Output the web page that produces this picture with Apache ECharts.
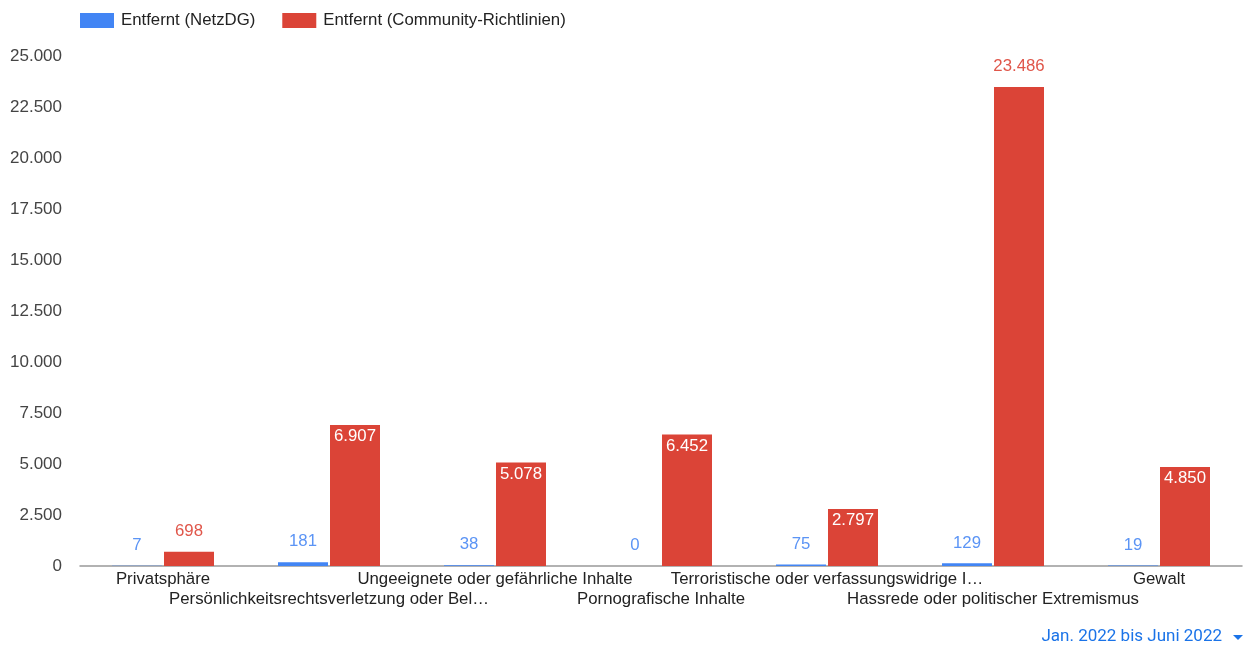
<!DOCTYPE html>
<html>
<head>
<meta charset="utf-8">
<script src="https://cdn.jsdelivr.net/npm/echarts@6/dist/echarts.min.js"></script>
<style>html,body{margin:0;padding:0;background:#fff}#c{width:1245px;height:646px}</style>
</head>
<body>
<div id="c"></div>
<script>
const categories = [
  "Privatsphäre",
  "Persönlichkeitsrechtsverletzung oder Beleidigung",
  "Ungeeignete oder gefährliche Inhalte",
  "Pornografische Inhalte",
  "Terroristische oder verfassungswidrige Inhalte",
  "Hassrede oder politischer Extremismus",
  "Gewalt"
];
const seriesNames = ["Entfernt (NetzDG)", "Entfernt (Community-Richtlinien)"];
const netzdg = [7, 181, 38, 0, 75, 129, 19];
const community = [698, 6907, 5078, 6452, 2797, 23486, 4850];
const yTicks = [0, 2500, 5000, 7500, 10000, 12500, 15000, 17500, 20000, 22500, 25000];
const periodLabel = "Jan. 2022 bis Juni 2022";

const FONT = "Liberation Sans, Arial, sans-serif";
function de(n) { return String(n).replace(/\B(?=(\d{3})+(?!\d))/g, "."); }
function trunc(s) { return s.length > 40 ? s.slice(0, 40) + "…" : s; }

const chart = echarts.init(document.getElementById('c'));
const redData = community.map(v => {
  const outside = v < 1500 || v > 20000;
  return {
    value: v,
    label: outside
      ? { position: 'top', distance: 12, color: '#e0564a' }
      : { position: 'insideTop', distance: 3, color: '#ffffff' }
  };
});
chart.setOption({
  animation: false,
  textStyle: { fontFamily: FONT },
  legend: {
    left: 75, top: 7,
    itemWidth: 34, itemHeight: 15, itemGap: 27,
    icon: 'rect',
    textStyle: { fontSize: 16.8, color: '#222', fontFamily: FONT, padding: [0, 0, 0, 2] },
    data: seriesNames
  },
  grid: { left: 80, right: 3, top: 56, bottom: 80 },
  xAxis: {
    type: 'category',
    data: categories,
    axisLine: { lineStyle: { color: '#999', width: 1.5 } },
    axisTick: { show: false },
    axisLabel: {
      interval: 0,
      color: '#222', fontSize: 16.8, fontFamily: FONT, margin: 3,
      lineHeight: 20,
      formatter: (v, i) => (i % 2 ? '\n' : '') + trunc(v)
    }
  },
  yAxis: {
    type: 'value',
    min: yTicks[0], max: yTicks[yTicks.length - 1], interval: 2500,
    splitLine: { show: false },
    axisLine: { show: false }, axisTick: { show: false },
    axisLabel: { color: '#444', fontSize: 17, fontFamily: FONT, margin: 18, formatter: v => de(v) }
  },
  series: [
    {
      name: seriesNames[0], type: 'bar', data: netzdg,
      barWidth: 50, barGap: '4%',
      itemStyle: { color: '#4285f4' },
      label: { show: true, position: 'top', distance: 12, color: '#5b94f5', fontSize: 16.8, fontFamily: FONT, formatter: p => de(p.value) }
    },
    {
      name: seriesNames[1], type: 'bar', data: redData,
      barWidth: 50,
      itemStyle: { color: '#db4437' },
      label: { show: true, fontSize: 16.8, fontFamily: FONT, formatter: p => de(p.value) }
    }
  ],
  graphic: [
    { type: 'text', right: 23, top: 628, style: { text: periodLabel, fill: '#1a73e8', font: '17px Roboto, sans-serif' } },
    { type: 'polygon', shape: { points: [[1233, 635], [1243, 635], [1238, 640]] }, style: { fill: '#1a73e8' } }
  ]
});
</script>
</body>
</html>
